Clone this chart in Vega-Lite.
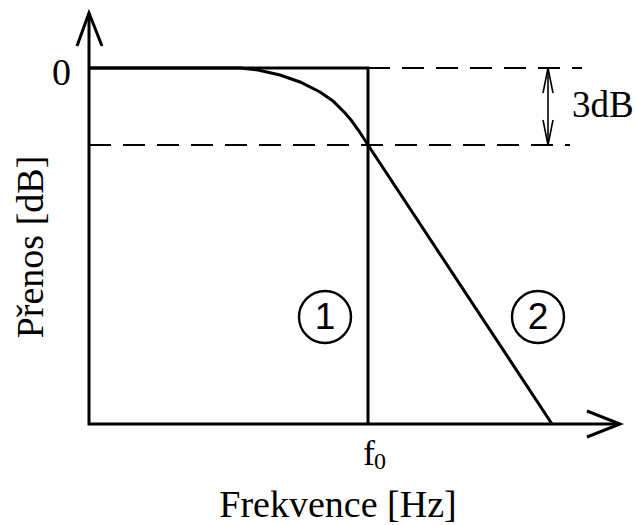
{
  "$schema": "https://vega.github.io/schema/vega-lite/v6.json",
  "width": 635,
  "height": 525,
  "autosize": {"type": "none"},
  "padding": 0,
  "background": "white",
  "config": {"view": {"stroke": null}},
  "datasets": {
    "frame": [
      {"path": "yarrow", "i": 0, "x": 77, "y": 46},
      {"path": "yarrow", "i": 1, "x": 89, "y": 13},
      {"path": "yarrow", "i": 2, "x": 102, "y": 46},
      {"path": "axes", "i": 0, "x": 89, "y": 13},
      {"path": "axes", "i": 1, "x": 89, "y": 424},
      {"path": "axes", "i": 2, "x": 620, "y": 424},
      {"path": "xarrow", "i": 0, "x": 587, "y": 411},
      {"path": "xarrow", "i": 1, "x": 620, "y": 424},
      {"path": "xarrow", "i": 2, "x": 587, "y": 437}
    ],
    "filters": [
      {"path": "ideal", "i": 0, "x": 89, "y": 68},
      {"path": "ideal", "i": 1, "x": 368, "y": 68},
      {"path": "ideal", "i": 2, "x": 368, "y": 424},
      {"path": "real", "i": 0, "x": 89, "y": 68},
      {"path": "real", "i": 1, "x": 240, "y": 68},
      {"path": "real", "i": 2, "x": 258, "y": 70},
      {"path": "real", "i": 3, "x": 280, "y": 75},
      {"path": "real", "i": 4, "x": 300, "y": 82},
      {"path": "real", "i": 5, "x": 320, "y": 92},
      {"path": "real", "i": 6, "x": 333, "y": 101},
      {"path": "real", "i": 7, "x": 345, "y": 113},
      {"path": "real", "i": 8, "x": 351, "y": 120},
      {"path": "real", "i": 9, "x": 359, "y": 131},
      {"path": "real", "i": 10, "x": 368, "y": 145},
      {"path": "real", "i": 11, "x": 552, "y": 424}
    ],
    "marker": [
      {"path": "shaft", "i": 0, "x": 548, "y": 68},
      {"path": "shaft", "i": 1, "x": 548, "y": 145},
      {"path": "top", "i": 0, "x": 543, "y": 93},
      {"path": "top", "i": 1, "x": 548, "y": 68},
      {"path": "top", "i": 2, "x": 553, "y": 93},
      {"path": "bottom", "i": 0, "x": 543, "y": 120},
      {"path": "bottom", "i": 1, "x": 548, "y": 145},
      {"path": "bottom", "i": 2, "x": 553, "y": 120}
    ],
    "refs": [
      {"path": "zero", "i": 0, "x": 368, "y": 68},
      {"path": "zero", "i": 1, "x": 582, "y": 68},
      {"path": "minus3", "i": 0, "x": 89, "y": 145},
      {"path": "minus3", "i": 1, "x": 570, "y": 145}
    ],
    "circles": [
      {"label": "1", "x": 325, "y": 317},
      {"label": "2", "x": 538, "y": 317}
    ]
  },
  "encoding": {
    "x": {"field": "x", "type": "quantitative", "scale": {"domain": [0, 635], "nice": false, "zero": false}, "axis": null},
    "y": {"field": "y", "type": "quantitative", "scale": {"domain": [0, 525], "nice": false, "zero": false, "reverse": true}, "axis": null}
  },
  "layer": [
    {
      "data": {"name": "refs"},
      "mark": {"type": "line", "color": "#000", "strokeWidth": 2, "strokeDash": [22, 12]},
      "encoding": {"detail": {"field": "path"}, "order": {"field": "i"}}
    },
    {
      "data": {"name": "frame"},
      "mark": {"type": "line", "color": "#000", "strokeWidth": 3, "strokeJoin": "miter"},
      "encoding": {"detail": {"field": "path"}, "order": {"field": "i"}}
    },
    {
      "data": {"name": "filters"},
      "mark": {"type": "line", "color": "#000", "strokeWidth": 3, "strokeJoin": "miter"},
      "encoding": {"detail": {"field": "path"}, "order": {"field": "i"}}
    },
    {
      "data": {"name": "marker"},
      "mark": {"type": "line", "color": "#000", "strokeWidth": 1.6, "strokeJoin": "miter"},
      "encoding": {"detail": {"field": "path"}, "order": {"field": "i"}}
    },
    {
      "data": {"name": "circles"},
      "mark": {"type": "point", "shape": "circle", "filled": false, "stroke": "#000", "strokeWidth": 2.4, "size": 2704, "opacity": 1}
    },
    {
      "data": {"name": "circles"},
      "mark": {"type": "text", "font": "Liberation Sans", "fontSize": 37, "align": "center", "baseline": "middle", "color": "#000", "dy": 1},
      "encoding": {"text": {"field": "label"}}
    },
    {
      "data": {"values": [{"label": "0", "x": 71, "y": 85}]},
      "mark": {"type": "text", "font": "Liberation Serif", "fontSize": 38, "align": "right", "baseline": "alphabetic", "color": "#000"},
      "encoding": {"text": {"field": "label"}}
    },
    {
      "data": {"values": [{"label": "3dB", "x": 572, "y": 117}]},
      "mark": {"type": "text", "font": "Liberation Serif", "fontSize": 37, "align": "left", "baseline": "alphabetic", "color": "#000"},
      "encoding": {"text": {"field": "label"}}
    },
    {
      "data": {"values": [{"label": "f", "x": 375, "y": 465}]},
      "mark": {"type": "text", "font": "Liberation Serif", "fontSize": 36, "align": "right", "baseline": "alphabetic", "color": "#000"},
      "encoding": {"text": {"field": "label"}}
    },
    {
      "data": {"values": [{"label": "0", "x": 374, "y": 469}]},
      "mark": {"type": "text", "font": "Liberation Serif", "fontSize": 24, "align": "left", "baseline": "alphabetic", "color": "#000"},
      "encoding": {"text": {"field": "label"}}
    },
    {
      "data": {"values": [{"label": "Frekvence [Hz]", "x": 338, "y": 517}]},
      "mark": {"type": "text", "font": "Liberation Serif", "fontSize": 38, "align": "center", "baseline": "alphabetic", "color": "#000"},
      "encoding": {"text": {"field": "label"}}
    },
    {
      "data": {"values": [{"label": "Přenos [dB]", "x": 43, "y": 247}]},
      "mark": {"type": "text", "font": "Liberation Serif", "fontSize": 38, "align": "center", "baseline": "alphabetic", "angle": 270, "color": "#000"},
      "encoding": {"text": {"field": "label"}}
    }
  ]
}
